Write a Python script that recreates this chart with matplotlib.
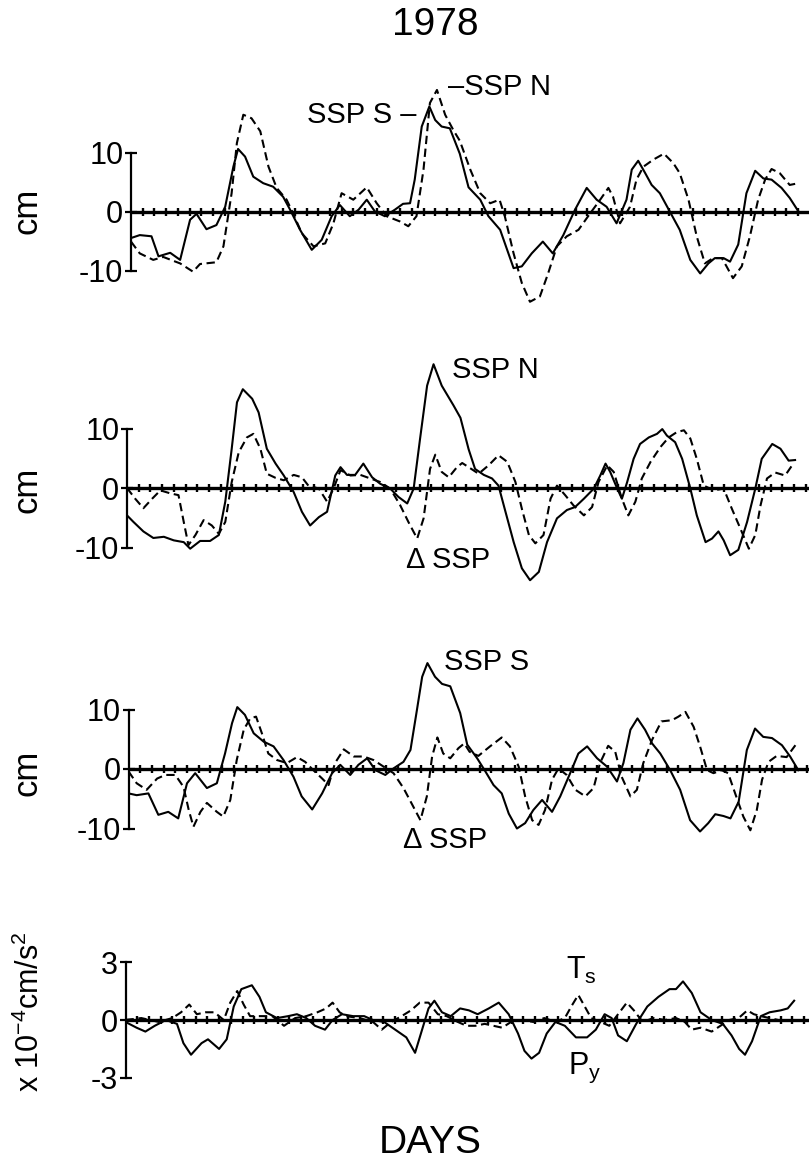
import numpy as np
import matplotlib
matplotlib.use('Agg')
import matplotlib.pyplot as plt

# ---- data (days from start of record) ----
p1_day_s = [0, 1.5, 3.5, 4.7, 6.7, 8.4, 10.1, 11.2, 12.9, 14.6, 16.1, 17.5, 18.3, 19.5, 20.9, 22.6, 24.3, 26.0,
            27.2, 28.9, 30.9, 32.6, 34.3, 35.7, 37.4, 38.9, 40.3, 41.7, 43.4, 45.1, 46.5, 47.7, 48.5, 49.7, 51.0,
            52.0, 53.1, 54.5, 56.2, 57.7, 59.7, 61.1, 63.1, 65.4, 66.8, 68.5, 70.4, 72.1, 73.9, 75.9, 77.9, 79.6,
            81.3, 83.0, 84.7, 85.6, 86.7, 87.9, 89.0, 90.4, 92.1, 93.8, 95.6, 97.3, 98.7, 99.8, 101.3, 102.4,
            103.8, 105.2, 106.7, 108.1, 109.5, 111.2, 112.6, 114.1]
p1_ssp_s = [-4.5, -4.0, -4.2, -7.6, -7.0, -8.2, -1.4, -0.4, -3.0, -2.3, 0.8, 7.6, 10.6, 9.3, 5.9, 4.8, 4.2, 2.5,
            0.3, -3.1, -6.5, -4.8, -0.8, 1.1, -0.8, 0.3, 2.0, 0.0, -0.8, 0.3, 1.3, 1.4, 5.4, 14.4, 17.8,
            15.5, 14.4, 14.1, 9.8, 4.1, 2.0, -0.8, -3.1, -9.6, -9.3, -7.1, -5.1, -7.1, -4.0, 0.3, 4.0, 2.0,
            0.8, -2.0, 2.0, 7.1, 8.6, 6.5, 4.5, 3.1, 0.0, -3.1, -8.2, -10.5, -8.8, -7.9, -7.9, -8.5,
            -5.6, 3.1, 6.9, 5.6, 5.4, 4.0, 2.3, 0.0]

p1_day_n = [0, 1.5, 3.8, 5.5, 8.4, 10.6, 11.8, 14.6, 15.8, 17.2, 18.1, 19.2, 20.6, 22.1, 23.5, 24.9, 26.6, 27.7,
            29.2, 31.2, 33.2, 34.6, 36.0, 38.0, 40.3, 42.0, 43.7, 46.0, 47.4, 48.8, 50.0, 51.1, 52.3, 53.7, 55.1,
            56.2, 58.0, 59.7, 61.4, 63.0, 63.9, 65.4, 66.8, 68.2, 69.9, 71.3, 72.8, 74.5, 76.5, 78.5, 80.2, 81.6,
            82.4, 83.6, 85.3, 86.4, 87.6, 89.3, 91.1, 92.7, 93.8, 95.3, 96.7, 98.1, 99.5, 101.0, 101.8, 102.9,
            104.4, 105.8, 107.2, 108.4, 109.5, 110.9, 112.6, 114.1]
p1_ssp_n = [-5.1, -7.1, -8.2, -7.7, -8.8, -10.2, -8.9, -8.6, -5.9, 3.1, 11.6, 16.4, 15.8, 13.6, 7.6, 4.0, 2.0, -0.3,
            -3.7, -5.9, -5.4, -2.0, 3.1, 2.0, 4.1, 1.4, -0.8, -1.7, -2.5, -0.8, 7.1, 18.4, 20.6, 16.4, 13.8,
            12.0, 7.1, 3.1, 1.4, 2.0, -0.8, -7.1, -12.1, -15.3, -14.4, -10.5, -5.9, -4.2, -3.1, -0.3, 2.0, 4.0,
            2.5, -2.0, 0.8, 5.4, 7.6, 8.8, 9.8, 8.2, 6.5, 2.0, -4.2, -8.8, -7.9, -7.9, -9.3, -11.3,
            -9.3, -4.2, 2.0, 5.4, 7.2, 6.5, 4.5, 4.8]

p2_day_n = [0, 1.1, 2.8, 4.5, 6.3, 8.0, 9.7, 10.8, 12.5, 14.2, 15.7, 16.8, 17.9, 18.8, 19.8, 21.4, 22.5, 23.9,
            25.4, 26.8, 28.5, 29.9, 31.3, 32.8, 34.2, 35.6, 36.5, 37.6, 39.0, 40.4, 41.9, 43.3, 45.0, 46.4, 47.9,
            49.0, 50.1, 51.3, 52.4, 53.8, 55.8, 57.0, 58.4, 59.5, 61.0, 62.4, 63.5, 64.7, 66.1, 67.5, 68.9, 70.4,
            71.8, 73.5, 75.2, 76.6, 78.1, 79.8, 80.9, 81.8, 82.6, 83.8, 84.6, 85.5, 86.6, 87.7, 89.2, 90.6, 91.5,
            92.3, 93.7, 94.9, 96.3, 97.4, 98.9, 100.0, 101.1, 102.0, 103.1, 104.5, 106.0, 107.4, 108.5, 110.3,
            111.7, 113.1, 114.2]
p2_ssp_n = [-4.6, -5.7, -7.3, -8.4, -8.2, -8.8, -9.1, -10.2, -8.9, -8.9, -7.9, -2.3, 6.6, 14.4, 16.6, 15.0, 12.7, 6.6,
            4.1, 2.1, -0.7, -4.0, -6.3, -4.9, -4.0, 2.1, 3.5, 2.2, 2.2, 4.1, 1.8, 0.7, -0.1, -1.5, -2.6,
            -0.1, 8.3, 17.2, 20.8, 17.2, 13.9, 11.8, 6.5, 3.2, 2.2, 1.6, 0.4, -4.0, -9.1, -13.5, -15.5, -14.1,
            -9.1, -5.1, -3.7, -3.2, -1.8, -0.1, 2.1, 4.1, 2.7, -0.1, -1.8, 1.0, 4.9, 7.4, 8.5, 9.1, 9.9,
            8.8, 7.7, 4.9, -0.1, -4.6, -9.1, -8.5, -7.3, -8.8, -11.3, -10.4, -5.7, -0.1, 4.9, 7.4,
            6.6, 4.6, 4.7]

p2_day_d = [0, 1.4, 2.8, 4.3, 5.7, 7.4, 8.8, 9.7, 10.5, 11.7, 13.1, 14.5, 15.7, 16.8, 17.9, 19.1, 20.5, 21.6,
            22.8, 23.9, 25.4, 26.8, 28.5, 29.9, 31.0, 32.8, 34.2, 35.3, 36.5, 38.2, 39.9, 41.6, 43.3, 45.0, 46.7,
            48.1, 49.6, 50.7, 51.8, 52.7, 53.8, 55.0, 56.4, 57.3, 58.4, 60.1, 61.8, 63.5, 65.0, 66.4, 67.5, 68.7,
            69.8, 71.2, 72.4, 73.5, 74.9, 76.3, 78.1, 79.5, 80.6, 82.1, 83.2, 84.6, 85.7, 86.9, 88.0, 89.5, 91.2,
            92.6, 94.0, 95.2, 96.3, 97.4, 98.6, 100.3, 102.0, 103.4, 104.8, 106.3, 107.4, 108.3, 109.4, 110.8,
            112.5, 113.9]
p2_delta = [0.0, -1.8, -3.4, -1.8, -0.4, -0.9, -1.2, -5.7, -9.6, -7.9, -5.4, -6.3, -7.7, -5.7, 1.0, 6.0, 8.5, 9.1,
            6.6, 2.4, 1.7, 1.3, 2.2, 1.8, 0.4, -0.1, -2.3, -0.1, 3.0, 2.1, 2.2, 1.6, 1.0, -0.1, -2.9,
            -5.7, -8.5, -5.1, 3.2, 5.6, 2.7, 1.8, 3.5, 4.2, 3.5, 2.4, 3.8, 5.5, 4.4, 1.0, -3.5, -7.9,
            -9.3, -7.9, -1.8, 0.4, -1.2, -2.9, -4.6, -3.2, 1.0, 3.8, 2.7, -1.8, -4.6, -2.3, 1.6, 4.4, 6.9,
            8.5, 9.4, 9.7, 8.3, 4.9, 0.4, -0.4, -0.1, -3.5, -6.7, -10.2, -7.9, -2.9, 1.6, 2.6,
            2.1, 4.1]

p3_day_s = [0, 1.4, 3.4, 5.1, 6.8, 8.5, 10.0, 11.4, 13.4, 15.1, 16.5, 17.7, 18.6, 19.9, 21.4, 23.1, 24.8, 26.5,
            28.2, 29.6, 31.4, 33.1, 34.8, 36.2, 37.9, 39.3, 40.8, 42.2, 43.9, 45.3, 47.0, 48.2, 49.3, 50.2, 51.1,
            52.4, 53.6, 55.0, 56.7, 57.9, 59.6, 61.0, 62.4, 63.8, 65.0, 66.4, 67.8, 69.2, 70.7, 72.4, 73.8, 75.5,
            76.9, 78.4, 80.1, 81.8, 83.5, 84.6, 85.8, 87.0, 88.3, 89.5, 90.9, 92.6, 94.3, 96.0, 97.7, 99.1, 100.3,
            101.7, 102.9, 104.3, 105.7, 107.1, 108.5, 110.0, 111.7, 113.1, 114.5]
p3_ssp_s = [-4.1, -4.4, -4.1, -7.7, -7.2, -8.3, -2.4, -0.7, -3.2, -2.4, 2.6, 7.7, 10.4, 9.1, 6.0, 4.6, 3.8, 1.5,
            -1.3, -4.6, -6.8, -4.1, -0.7, 0.7, -1.0, 0.7, 1.8, -0.2, -1.0, 0.1, 1.2, 3.2, 9.9, 15.5, 17.8,
            15.5, 14.3, 13.9, 9.4, 4.1, 1.8, -0.4, -2.7, -4.1, -7.5, -10.0, -9.1, -6.9, -5.2, -7.2, -4.6, -0.7,
            2.6, 3.8, 1.8, 0.4, -2.1, 1.0, 6.6, 8.5, 6.6, 4.3, 2.6, -0.2, -3.5, -8.6, -10.5, -9.1, -7.6,
            -7.9, -8.3, -5.5, 3.2, 6.8, 5.4, 5.2, 4.0, 2.1, -0.2]

p3_day_d = [0, 1.4, 3.1, 4.9, 6.3, 8.0, 9.4, 10.3, 11.1, 12.3, 13.4, 15.1, 16.2, 17.4, 18.5, 19.7, 20.8, 21.8,
            22.8, 23.9, 25.4, 27.1, 28.8, 30.2, 31.6, 33.1, 34.2, 35.3, 36.8, 38.5, 40.2, 41.9, 43.6, 45.3, 47.0,
            48.4, 49.9, 51.0, 51.9, 52.8, 53.8, 55.0, 56.4, 57.4, 58.3, 59.8, 61.8, 63.8, 65.2, 66.7, 67.8, 69.0,
            70.1, 71.2, 72.4, 73.5, 74.9, 76.4, 78.1, 79.5, 80.6, 82.0, 83.2, 84.3, 85.8, 86.9, 88.0, 89.5, 91.1,
            92.9, 94.0, 95.2, 96.6, 97.7, 98.9, 100.0, 101.4, 102.5, 103.7, 105.1, 106.3, 107.4, 108.3, 109.4,
            110.8, 112.5, 114.0]
p3_delta = [-0.4, -2.4, -3.5, -1.6, -1.0, -1.0, -3.0, -6.9, -9.7, -7.2, -5.7, -7.2, -8.0, -5.2, 1.5, 6.6, 8.5, 8.8,
            6.0, 2.6, 1.5, 1.0, 2.0, 1.2, -0.2, -1.6, -2.7, 1.0, 3.3, 2.1, 2.1, 1.5, 0.4, -0.7, -3.2,
            -5.8, -8.6, -4.6, 2.1, 5.3, 2.6, 1.8, 3.5, 4.3, 2.9, 2.2, 3.8, 5.3, 3.8, 0.4, -4.6, -8.6,
            -9.4, -6.9, -1.8, 0.1, -1.0, -3.5, -4.6, -3.2, 1.0, 3.9, 2.9, -1.3, -4.6, -3.5, 1.0, 4.9, 8.0,
            8.2, 8.8, 9.6, 7.1, 3.8, -0.2, -0.7, -0.2, -0.7, -4.1, -8.0, -10.3, -6.9, -1.8, 1.2,
            2.2, 2.0, 4.0]

p4_day_py = [0, 1.9, 3.4, 5.0, 6.9, 8.8, 9.9, 11.2, 13.0, 14.1, 16.0, 17.3, 18.5, 19.8, 21.6, 22.9, 24.0, 25.9,
             27.8, 29.3, 30.9, 32.4, 34.1, 35.4, 37.0, 38.9, 40.8, 42.3, 44.2, 46.1, 48.0, 49.5, 50.7, 51.8,
             52.8, 54.1, 55.6, 57.2, 58.7, 60.2, 62.1, 63.8, 65.5, 67.1, 68.2, 69.4, 70.7, 72.0, 73.5, 75.1,
             77.0, 78.9, 80.4, 81.9, 83.1, 84.2, 85.7, 87.3, 89.2, 91.1, 93.0, 94.1, 95.3, 96.8, 98.3, 100.2,
             102.1, 103.6, 104.9, 105.9, 107.1, 108.6, 110.1, 112.0, 113.2, 114.3]
p4_py = [-0.1, -0.4, -0.6, -0.3, 0.0, -0.2, -1.2, -1.8, -1.2, -1.0, -1.5, -1.0, 0.7, 1.6, 1.8, 1.2, 0.4, 0.1,
         0.2, 0.3, 0.1, -0.3, -0.5, 0.0, 0.3, 0.2, 0.2, 0.0, -0.1, -0.5, -0.9, -1.7, -0.5, 0.6,
         1.0, 0.4, 0.2, 0.6, 0.5, 0.3, 0.6, 0.9, 0.3, -0.7, -1.6, -2.0, -1.7, -0.7, -0.1, -0.3,
         -0.9, -0.9, -0.5, 0.3, 0.1, -0.8, -1.1, -0.2, 0.7, 1.2, 1.6, 1.6, 2.0, 1.4, 0.4, 0.0,
         -0.2, -0.8, -1.5, -1.8, -1.1, 0.2, 0.4, 0.5, 0.6, 1.0]

p4_day_ts = [0, 2.7, 5.7, 8.0, 9.5, 10.9, 12.2, 13.7, 15.2, 16.8, 17.9, 19.1, 20.2, 21.3, 23.2, 25.1, 27.1, 29.0,
             30.9, 32.8, 34.3, 35.4, 36.6, 37.7, 40.0, 42.3, 43.8, 45.4, 47.2, 48.8, 50.3, 51.8, 53.4, 54.9,
             56.8, 58.3, 59.8, 61.4, 62.9, 64.4, 65.9, 67.8, 69.7, 71.6, 73.5, 75.1, 76.2, 77.4, 78.5, 79.6,
             81.2, 82.7, 84.2, 85.7, 86.9, 88.4, 90.3, 92.2, 94.1, 95.6, 96.8, 98.3, 100.2, 101.7, 103.2, 104.8,
             106.3, 107.4, 108.6, 110.1, 111.6]
p4_ts = [0.0, 0.1, -0.1, 0.1, 0.4, 0.8, 0.3, 0.4, 0.4, 0.0, 0.9, 1.5, 0.8, 0.2, 0.2, 0.2, -0.3, 0.1,
         0.2, 0.4, 0.6, 0.9, 0.4, 0.2, 0.1, -0.1, -0.5, -0.1, 0.2, 0.5, 0.9, 0.9, 0.3, 0.2,
         -0.1, -0.3, -0.3, -0.2, -0.3, -0.4, -0.1, 0.0, -0.1, 0.1, -0.1, 0.1, 0.7, 1.3, 0.7, 0.1,
         -0.1, -0.3, 0.3, 0.9, 0.5, -0.1, 0.1, 0.0, 0.1, -0.1, -0.5, -0.4, -0.6, -0.3, 0.0, 0.1,
         0.5, 0.3, 0.2, 0.1, 0.0]

cm_ticks = [-10, 0, 10]
cm_ticklabels = ['-10', '0', '10']
acc_ticks = [-3, 0, 3]
acc_ticklabels = ['-3', '0', '3']

W, H = 809, 1160
PX_PER_DAY = 5.85

plt.rcParams['font.family'] = ['Liberation Sans', 'DejaVu Sans']
plt.rcParams['mathtext.fontset'] = 'custom'
plt.rcParams['mathtext.rm'] = 'Liberation Sans'
plt.rcParams['mathtext.it'] = 'Liberation Sans'
fig = plt.figure(figsize=(W / 100, H / 100), dpi=100)


def add_panel(axis_px, zero_px, px_per_unit, ylo, yhi, ticks, ticklabels):
    top_px = zero_px - yhi * px_per_unit
    bot_px = zero_px - ylo * px_per_unit
    ax = fig.add_axes([axis_px / W, 1 - bot_px / H, (W - axis_px) / W, (bot_px - top_px) / H])
    xmax = (W - axis_px) / PX_PER_DAY
    ax.set_xlim(0, xmax)
    ax.set_ylim(ylo, yhi)
    ax.patch.set_alpha(0)
    for side in ['top', 'right', 'bottom']:
        ax.spines[side].set_visible(False)
    ax.spines['left'].set_bounds(ticks[0], ticks[-1])
    ax.spines['left'].set_linewidth(1.6)
    ax.set_xticks([])
    ax.set_yticks(ticks)
    ax.set_yticklabels(ticklabels)
    ax.tick_params(axis='y', direction='inout', length=9, width=1.6, labelsize=22, pad=1)
    # zero line with day tick crosses
    ax.axhline(0, color='black', lw=2.4, zorder=3)
    tick_days = np.arange(2, xmax, 2)
    ax.plot(tick_days, np.zeros_like(tick_days), ls='none', marker='|', ms=6, mew=1.7,
            color='black', zorder=3)
    return ax


solid = dict(color='black', lw=1.5)
dashed = dict(color='black', lw=1.5, ls=(0, (4, 2.2)))

ax1 = add_panel(131, 211.5, 5.9, -18, 23, cm_ticks, cm_ticklabels)
ax1.plot(p1_day_s, p1_ssp_s, **solid)
ax1.plot(p1_day_n, p1_ssp_n, **dashed)

ax2 = add_panel(127, 488, 5.95, -18, 23, cm_ticks, cm_ticklabels)
ax2.plot(p2_day_n, p2_ssp_n, **solid)
ax2.plot(p2_day_d, p2_delta, **dashed)

ax3 = add_panel(128.5, 769, 5.95, -18, 23, cm_ticks, cm_ticklabels)
ax3.plot(p3_day_s, p3_ssp_s, **solid)
ax3.plot(p3_day_d, p3_delta, **dashed)

ax4 = add_panel(125.5, 1020, 19.3, -3.5, 3.5, acc_ticks, acc_ticklabels)
ax4.plot(p4_day_py, p4_py, **solid)
ax4.plot(p4_day_ts, p4_ts, **dashed)


def ftext(x, y, s, **kw):
    fig.text(x / W, 1 - y / H, s, **kw)


ftext(435, 25, '1978', fontsize=28, ha='center', va='center')
ftext(430, 1143, 'DAYS', fontsize=28, ha='center', va='center')

for yc in [211, 490, 773]:
    ftext(27, yc, 'cm', fontsize=25, rotation=90, ha='center', va='center')
ftext(30, 1012, r'x 10$^{\mathregular{-4}}$cm/s$^{\mathregular{2}}$', fontsize=22, rotation=90,
      ha='center', va='center')

ftext(307, 115, 'SSP S \u2013', fontsize=21, ha='left', va='center')
ftext(448, 87, '\u2013SSP N', fontsize=21, ha='left', va='center')
ftext(452, 370, 'SSP N', fontsize=21, ha='left', va='center')
ftext(406, 560, '\u0394 SSP', fontsize=21, ha='left', va='center')
ftext(444, 662, 'SSP S', fontsize=21, ha='left', va='center')
ftext(403, 840, '\u0394 SSP', fontsize=21, ha='left', va='center')
ftext(566, 970, r'T$_{\mathregular{s}}$', fontsize=22, ha='left', va='center')
ftext(568, 1068, r'P$_{\mathregular{y}}$', fontsize=22, ha='left', va='center')

fig.savefig('out.png', dpi=100)
